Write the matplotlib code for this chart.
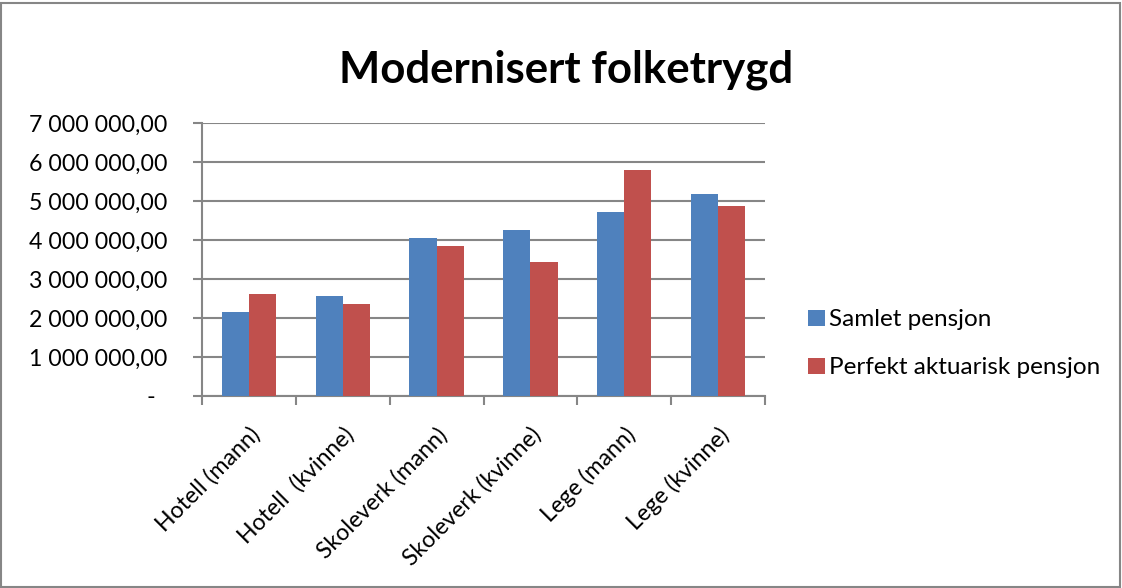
import matplotlib.pyplot as plt
import numpy as np
from matplotlib.ticker import FuncFormatter
from matplotlib.patches import Rectangle
from matplotlib.transforms import ScaledTranslation

plt.rcParams['font.family'] = ['Lato', 'DejaVu Sans']

categories = ["Hotell (mann)", "Hotell  (kvinne)", "Skoleverk (mann)",
              "Skoleverk (kvinne)", "Lege (mann)", "Lege (kvinne)"]
samlet = [2160000, 2570000, 4060000, 4260000, 4720000, 5190000]
perfekt = [2620000, 2370000, 3850000, 3440000, 5800000, 4880000]
series_names = ["Samlet pensjon", "Perfekt aktuarisk pensjon"]
colors = ["#4F81BD", "#C0504D"]
title = "Modernisert folketrygd"

W, H = 1122, 588


def fmt(v, pos):
    if v == 0:
        return "-  "
    return f"{v:,.2f}".replace(",", " ").replace(".", ",")


fig = plt.figure(figsize=(W / 100, H / 100), dpi=100)
renderer = fig.canvas.get_renderer()


def fit_size(txt, target_px, weight="normal"):
    # scale font size so the text is target_px wide (the reference uses Calibri)
    t = fig.text(0, 0, txt, fontsize=10, fontweight=weight)
    w = t.get_window_extent(renderer).width
    t.remove()
    return 10 * target_px / w


tick_fs = fit_size("7 000 000,00", 137)
title_fs = fit_size(title, 457, "bold")
leg_fs = fit_size(series_names[1], 272)

ax = fig.add_axes([202 / W, 1 - 396 / H, 563 / W, 273 / H])

x = np.arange(len(categories))
w = 0.29
ax.bar(x - w / 2, samlet, w, color=colors[0], label=series_names[0], zorder=3)
ax.bar(x + w / 2, perfekt, w, color=colors[1], label=series_names[1], zorder=3)

grey = "#868686"
ax.set_xlim(-0.5, len(categories) - 0.5)
ax.set_ylim(0, 7000000)
ax.set_yticks(np.arange(0, 7000001, 1000000))
ax.yaxis.set_major_formatter(FuncFormatter(fmt))
ax.grid(axis="y", color=grey, linewidth=1.5, zorder=0)

# category boundaries get the tick marks, labels sit in the middle
ax.set_xticks(np.arange(-0.5, len(categories), 1.0))
ax.set_xticklabels([])
ax.set_xticks(x, minor=True)
ax.set_xticklabels(categories, minor=True, rotation=45, ha="right",
                   rotation_mode="anchor", fontsize=tick_fs)
shift = ScaledTranslation(5 / 72, 0, fig.dpi_scale_trans)
for lab in ax.get_xticklabels(minor=True):
    lab.set_transform(lab.get_transform() + shift)
ax.tick_params(axis="x", which="minor", length=0, pad=20)
ax.tick_params(axis="x", which="major", length=6.5, width=1.5, color=grey)
ax.tick_params(axis="y", length=6.5, width=1.5, color=grey, labelsize=tick_fs, pad=18.5)

for s in ["top", "right"]:
    ax.spines[s].set_visible(False)
for s in ["left", "bottom"]:
    ax.spines[s].set_color(grey)
    ax.spines[s].set_linewidth(1.5)

fig.text(566.5 / W, 1 - 83 / H, title, ha="center", va="baseline",
         fontsize=title_fs, fontweight="bold")

fs_px = leg_fs * 100 / 72


def make_legend(spacing):
    return fig.legend(loc="center left", bbox_to_anchor=(808 / W, 1 - 344 / H),
                      frameon=False, fontsize=leg_fs, handlelength=17 / fs_px,
                      handleheight=16 / fs_px, handletextpad=4 / fs_px,
                      labelspacing=spacing, borderpad=0, borderaxespad=0)


# legend rows sit 48 px apart in the reference
spacing = 0.8
leg = make_legend(spacing)
fig.canvas.draw()
p = [pt.get_window_extent(renderer) for pt in leg.get_patches()]
pitch = (p[0].y0 + p[0].y1) / 2 - (p[1].y0 + p[1].y1) / 2
leg.remove()
leg = make_legend(spacing + (48 - pitch) / fs_px)

fig.patches.append(Rectangle((0.5 / W, 1.5 / H), 1 - 3 / W, 1 - 4 / H,
                             transform=fig.transFigure, fill=False,
                             edgecolor=grey, linewidth=1.5))

fig.savefig("out.png", dpi=100)
